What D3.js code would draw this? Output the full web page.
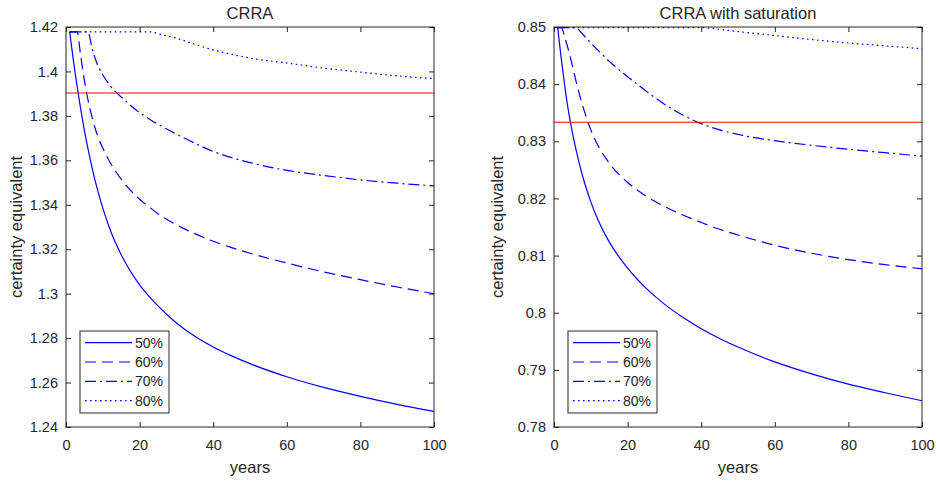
<!DOCTYPE html>
<html>
<head>
<meta charset="utf-8">
<script src="https://cdn.jsdelivr.net/npm/d3@7"></script>
<style>
  body { margin: 0; background: #fff; }
  svg text { font-family: "Liberation Sans", Arial, sans-serif; fill: #262626; }
</style>
</head>
<body>
<div id="chart"></div>
<script>
// horizon in years, shared by every curve
const years = [1, 2, 3, 4, 5, 6, 7, 8, 10, 12, 15, 20, 23, 25, 30, 35, 40, 45, 50, 60, 70, 80, 90, 100];
const seriesNames = ["50%", "60%", "70%", "80%"];

// CRRA
const ceLeft50 = [1.4178, 1.405, 1.3935, 1.383, 1.3735, 1.365, 1.3573, 1.3503, 1.3385, 1.3288, 1.3175, 1.304, 1.298, 1.2945, 1.2868, 1.2808, 1.276, 1.272, 1.2685, 1.2626, 1.2578, 1.2538, 1.2502, 1.247];
const ceLeft60 = [1.4178, 1.4178, 1.4178, 1.407, 1.396, 1.387, 1.38, 1.374, 1.3655, 1.359, 1.3515, 1.3425, 1.3385, 1.336, 1.331, 1.327, 1.3236, 1.3207, 1.3182, 1.3138, 1.3098, 1.3063, 1.303, 1.3];
const ceLeft70 = [1.4178, 1.4178, 1.4178, 1.4178, 1.4178, 1.4178, 1.411, 1.4055, 1.3985, 1.3935, 1.3885, 1.3815, 1.3782, 1.3762, 1.3718, 1.3677, 1.364, 1.3612, 1.359, 1.3555, 1.3532, 1.3512, 1.3497, 1.3485];
const ceLeft80 = [1.4178, 1.4178, 1.4178, 1.4178, 1.4178, 1.4178, 1.4178, 1.4178, 1.4178, 1.4178, 1.4178, 1.4178, 1.4178, 1.417, 1.415, 1.4122, 1.4097, 1.4077, 1.406, 1.4038, 1.4015, 1.3997, 1.398, 1.3968];
const benchLeft = 1.3903;

// CRRA with saturation
const ceRight50 = [0.8499, 0.8443, 0.8393, 0.835, 0.8315, 0.8285, 0.8258, 0.8234, 0.8194, 0.8162, 0.8124, 0.8078, 0.8056, 0.8043, 0.8015, 0.7992, 0.7972, 0.7955, 0.794, 0.7914, 0.7893, 0.7875, 0.786, 0.7846];
const ceRight60 = [0.8499, 0.8499, 0.848, 0.8458, 0.8432, 0.8405, 0.838, 0.8358, 0.832, 0.8292, 0.8262, 0.8228, 0.8213, 0.8204, 0.8186, 0.8171, 0.8158, 0.8146, 0.8136, 0.8118, 0.8104, 0.8093, 0.8084, 0.8077];
const ceRight70 = [0.8499, 0.8499, 0.8499, 0.8499, 0.8499, 0.8499, 0.8493, 0.8486, 0.8472, 0.8459, 0.844, 0.8413, 0.8398, 0.8388, 0.8365, 0.8346, 0.8331, 0.832, 0.8312, 0.8301, 0.8293, 0.8286, 0.828, 0.8274];
const ceRight80 = [0.8499, 0.8499, 0.8499, 0.8499, 0.8499, 0.8499, 0.8499, 0.8499, 0.8499, 0.8499, 0.8499, 0.8499, 0.8499, 0.8499, 0.8499, 0.8499, 0.8499, 0.8496, 0.8492, 0.8485, 0.8478, 0.8472, 0.8467, 0.8462];
const benchRight = 0.83333;

const xTicks = [0, 20, 40, 60, 80, 100];
const yTicksLeft = [1.24, 1.26, 1.28, 1.3, 1.32, 1.34, 1.36, 1.38, 1.4, 1.42];
const yTicksRight = [0.78, 0.79, 0.8, 0.81, 0.82, 0.83, 0.84, 0.85];

const width = 937, height = 483;
const dashes = [null, "11,6", "11,4,2,4", "1.6,3.4"];
const axisColor = "#262626";

const svg = d3.select("#chart").append("svg")
  .attr("width", width)
  .attr("height", height);

function panel(opt) {
  const x = d3.scaleLinear().domain([0, 100]).range([opt.left, opt.left + 368]);
  const y = d3.scaleLinear().domain(opt.yDomain).range([427, 27]);
  const g = svg.append("g");

  // curves
  const line = d3.line()
    .curve(d3.curveMonotoneX)
    .x((d, i) => x(years[i]))
    .y(d => y(d));

  opt.series.forEach((s, k) => {
    g.append("path")
      .attr("d", line(s))
      .attr("fill", "none")
      .attr("stroke", "#0000ff")
      .attr("stroke-width", 1.2)
      .attr("stroke-dasharray", dashes[k]);
  });

  // benchmark
  g.append("line")
    .attr("x1", x(0)).attr("x2", x(100))
    .attr("y1", y(opt.bench)).attr("y2", y(opt.bench))
    .attr("stroke", "#ff0000")
    .attr("stroke-width", 1.2);

  // axes, ticks pointing inward
  const fmt = d => String(d);
  const bottom = g.append("g").attr("transform", `translate(0,${y.range()[0]})`)
    .call(d3.axisBottom(x).tickValues(xTicks).tickFormat(fmt).tickSizeInner(-5).tickSizeOuter(0).tickPadding(12.5));
  const top = g.append("g").attr("transform", `translate(0,${y.range()[1]})`)
    .call(d3.axisTop(x).tickValues(xTicks).tickFormat("").tickSizeInner(-5).tickSizeOuter(0));
  const left = g.append("g").attr("transform", `translate(${x.range()[0]},0)`)
    .call(d3.axisLeft(y).tickValues(opt.yTicks).tickFormat(fmt).tickSizeInner(-5).tickSizeOuter(0).tickPadding(8));
  const right = g.append("g").attr("transform", `translate(${x.range()[1]},0)`)
    .call(d3.axisRight(y).tickValues(opt.yTicks).tickFormat("").tickSizeInner(-5).tickSizeOuter(0));

  [bottom, top, left, right].forEach(a => {
    a.select(".domain").remove();
    a.selectAll("line").attr("stroke", axisColor);
    a.selectAll("text").attr("font-size", 14.5).attr("fill", axisColor)
      .style("font-family", "'Liberation Sans', Arial, sans-serif");
  });

  g.append("rect")
    .attr("x", x.range()[0]).attr("y", y.range()[1])
    .attr("width", x.range()[1] - x.range()[0])
    .attr("height", y.range()[0] - y.range()[1])
    .attr("fill", "none")
    .attr("stroke", axisColor)
    .attr("stroke-width", 1);

  // labels
  const cx = (x.range()[0] + x.range()[1]) / 2;
  g.append("text").attr("x", cx).attr("y", 19)
    .attr("text-anchor", "middle").attr("font-size", 16.5).text(opt.title);
  g.append("text").attr("x", cx).attr("y", 473)
    .attr("text-anchor", "middle").attr("font-size", 16.5).text("years");
  g.append("text")
    .attr("transform", `translate(${opt.ylabelX},227) rotate(-90)`)
    .attr("text-anchor", "middle").attr("font-size", 16.5).text("certainty equivalent");

  // legend
  const lx = x.range()[0] + 14, ly = 331;
  const lg = g.append("g").attr("transform", `translate(${lx},${ly})`);
  lg.append("rect").attr("width", 89).attr("height", 82)
    .attr("fill", "#fff").attr("stroke", axisColor).attr("stroke-width", 1);
  seriesNames.forEach((name, k) => {
    const ry = 11.7 + k * 19.3;
    lg.append("line")
      .attr("x1", 5).attr("x2", 52).attr("y1", ry).attr("y2", ry)
      .attr("stroke", "#0000ff").attr("stroke-width", 1.2)
      .attr("stroke-dasharray", dashes[k]);
    lg.append("text").attr("x", 55).attr("y", ry).attr("dy", "0.35em")
      .attr("font-size", 14).text(name);
  });
}

panel({
  left: 66, title: "CRRA", yDomain: [1.24, 1.42], yTicks: yTicksLeft,
  series: [ceLeft50, ceLeft60, ceLeft70, ceLeft80], bench: benchLeft, ylabelX: 22
});
panel({
  left: 554, title: "CRRA with saturation", yDomain: [0.78, 0.85], yTicks: yTicksRight,
  series: [ceRight50, ceRight60, ceRight70, ceRight80], bench: benchRight, ylabelX: 503
});
</script>
</body>
</html>
